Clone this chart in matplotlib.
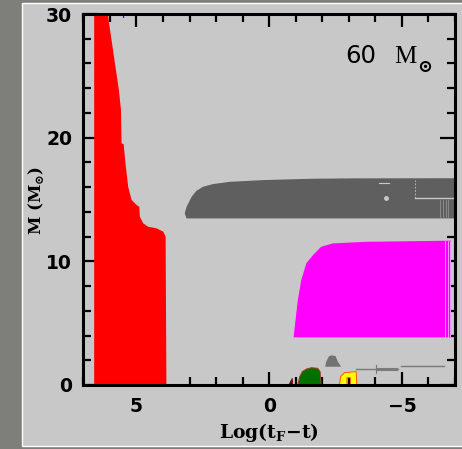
import matplotlib
matplotlib.use("Agg")
import matplotlib.pyplot as plt
from matplotlib.patches import Rectangle
from matplotlib.ticker import MultipleLocator

# ---------------- data ----------------
# red region: left edge and right boundary (top -> bottom)
red_left = 6.59
red_x = [6.08, 5.66, 5.58, 5.56, 5.48, 5.41, 5.31, 5.18, 4.99, 4.89, 4.87, 4.74, 4.56, 4.24, 3.99, 3.90, 3.89, 3.87]
red_y = [30.0, 23.85, 22.23, 19.54, 19.48, 17.9, 16.03, 14.96, 14.55, 14.41, 13.6, 13.07, 12.8, 12.67, 12.4, 12.0, 8.2, 0.0]

# dark grey region: outline of upper edge (left tip -> right), flat bottom
grey_x = [3.11, 3.18, 3.11, 2.92, 2.74, 2.49, 2.11, 1.48, 0.23, -1.65, -3.28, -7.0]
grey_y = [13.47, 13.88, 14.41, 15.22, 15.70, 16.03, 16.25, 16.43, 16.57, 16.68, 16.71, 16.72]
grey_bottom = 13.47

# magenta region: left boundary (bottom -> top), flat bottom, right edge
mag_x = [-0.92, -0.98, -1.08, -1.21, -1.40, -1.65, -1.96, -2.40, -3.65, -6.85]
mag_y = [3.85, 5.0, 6.87, 8.49, 9.84, 10.5, 11.18, 11.45, 11.58, 11.67]
mag_bottom = 3.85

# small dark-red triangle
dred_x = [-0.74, -0.87, -0.89]
dred_y = [0.0, 0.54, 0.0]

# green bump
green_x = [-1.08, -1.15, -1.25, -1.40, -1.59, -1.83, -1.92, -1.96]
green_y = [0.0, 0.67, 1.08, 1.29, 1.40, 1.35, 1.08, 0.0]

# yellow bump (with notch)
yel_x = [-2.65, -2.69, -2.84, -3.28, -3.30, -3.06, -3.06, -2.93, -2.93]
yel_y = [0.0, 0.67, 1.00, 1.08, 0.0, 0.0, 0.59, 0.59, 0.0]

# small grey bump
gb_x = [-2.11, -2.15, -2.24, -2.34, -2.50, -2.59, -2.71]
gb_y = [1.48, 1.88, 2.29, 2.40, 2.34, 1.88, 1.48]

# thin grey streaks
line1_x = [-3.29, -4.84]
line1_y = [1.32, 1.32]
line1b_x = [-4.09, -4.78]
line1b_y = [1.30, 1.30]
line2_x = [-4.97, -6.60]
line2_y = [1.56, 1.56]

xticks_major = [5, 0, -5]
yticks_major = [0, 10, 20, 30]

# ---------------- figure ----------------
W, H = 462, 449
fig = plt.figure(figsize=(W / 100, H / 100), dpi=100)
fig.patch.set_facecolor("#7e7f7b")
PANEL = "#c8c8c8"
fig.add_artist(Rectangle((22 / W, 1 - 446 / H), 1 - 22 / W + 0.01, (446 - 3) / H,
                         transform=fig.transFigure, facecolor=PANEL,
                         edgecolor="white", lw=1.0, zorder=0))

ax = fig.add_axes([83.3 / W, 1 - 385 / H, (455 - 83.3) / W, (385 - 14) / H])
ax.set_facecolor(PANEL)
ax.set_xlim(7, -7)
ax.set_ylim(0, 30)

# red
rx = [red_left] + red_x + [red_left]
ry = [30.0] + red_y + [0.0]
ax.fill(rx, ry, color="#ff0000", lw=0, zorder=2)

# dark grey
gx = grey_x + [grey_x[-1], grey_x[0]]
gy = grey_y + [grey_bottom, grey_bottom]
ax.fill(gx, gy, color="#5f5f5f", lw=0, zorder=2)
# light streaks inside grey region
ax.plot([-5.5, -7.0], [15.1, 15.1], color=PANEL, lw=1.0, zorder=3)
ax.plot([-5.5, -5.5], [15.1, 16.6], color=PANEL, lw=0.6, ls=(0, (2, 2)), zorder=3)
ax.plot([-4.15, -4.5], [16.3, 16.3], color=PANEL, lw=0.8, zorder=3)
ax.plot([-4.4], [15.1], marker="o", ms=2.5, color=PANEL, zorder=3)
for xv in [-6.45, -6.55, -6.65, -6.75]:
    ax.plot([xv, xv], [13.47, 15.0], color="#9a9a9a", lw=0.5, zorder=3)

# magenta
mx = mag_x + [mag_x[-1], mag_x[0]]
my = mag_y + [mag_bottom, mag_bottom]
ax.fill(mx, my, color="#ff00ff", lw=0, zorder=2)
for xv in [-6.62, -6.72, -6.80]:
    ax.plot([xv, xv], [mag_bottom, 11.67], color="#f4c8f4", lw=0.5, zorder=3)

# small features
ax.fill(dred_x, dred_y, color="#6a0000", lw=0.5, zorder=2)
ax.fill(green_x, green_y, facecolor="#007000", edgecolor="#a04020", lw=0.7, zorder=2)
ax.fill(yel_x, yel_y, facecolor="#ffff00", edgecolor="#ff5500", lw=0.7, zorder=2)
ax.fill(gb_x, gb_y, color="#727272", lw=0, zorder=2)
ax.plot(line1_x, line1_y, color="#7a7a7a", lw=1.0, zorder=2)
ax.plot(line1b_x, line1b_y, color="#7a7a7a", lw=2.2, zorder=2)
ax.plot([-4.03, -4.03], [0.95, 1.62], color="#7a7a7a", lw=0.8, zorder=2)
ax.plot(line2_x, line2_y, color="#7a7a7a", lw=1.0, zorder=2)
ax.plot([5.5, 5.5], [29.75, 30], color="#0000ff", lw=0.8, zorder=2)

# ticks & spines
for s in ax.spines.values():
    s.set_linewidth(2.2)
    s.set_zorder(5)
ax.set_xticks(xticks_major)
ax.set_yticks(yticks_major)
ax.xaxis.set_minor_locator(MultipleLocator(1))
ax.yaxis.set_minor_locator(MultipleLocator(2))
ax.tick_params(which="both", direction="in", top=True, right=True, width=1.6, zorder=6)
ax.tick_params(which="major", length=9.5)
ax.tick_params(which="minor", length=5.5)
ax.tick_params(axis="y", which="major", length=10.5, pad=8)
ax.tick_params(axis="x", which="major", pad=9)
for lab in ax.get_xticklabels() + ax.get_yticklabels():
    lab.set_fontfamily("DejaVu Sans")
    lab.set_fontweight("bold")
    lab.set_fontsize(13.5)

plt.rcParams["mathtext.fontset"] = "custom"
plt.rcParams["mathtext.rm"] = "DejaVu Serif:bold"
plt.rcParams["mathtext.bf"] = "DejaVu Serif:bold"

fig.text(269 / W, 1 - 433 / H, r"Log(t$_{\mathrm{F}}$$\mathrm{-}$t)", ha="center", va="center",
         fontfamily="DejaVu Serif", fontweight="bold", fontsize=13.5)
fig.text(36 / W, 1 - 200 / H, r"M (M$_{\odot}$)", ha="center", va="center", rotation=90,
         fontfamily="DejaVu Serif", fontweight="bold", fontsize=12)

# label "60 M_sun"
fig.text(345 / W, 1 - 63 / H, "60", ha="left", va="baseline",
         fontfamily="DejaVu Sans", fontsize=17.5)
fig.text(394 / W, 1 - 63 / H, "M", ha="left", va="baseline",
         fontfamily="Liberation Serif", fontsize=18)
fig.text(425 / W, 1 - 67 / H, r"$\odot$", ha="center", va="center", fontsize=13)

fig.savefig("out.png", dpi=100, facecolor=fig.get_facecolor())
